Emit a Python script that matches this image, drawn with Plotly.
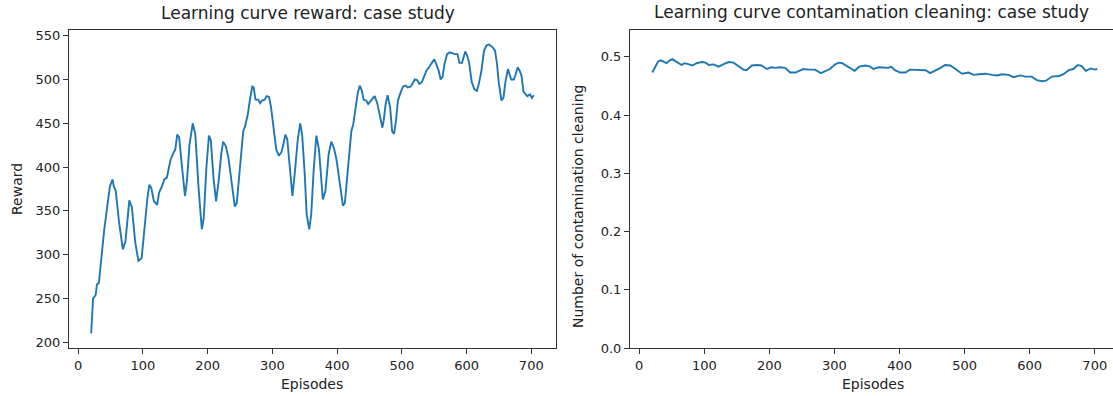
import plotly.graph_objects as go

# ---- data ----
reward_episodes = [20, 23, 27, 29, 32, 37, 40, 44, 49, 53, 55, 58, 63, 69, 73, 79, 83, 88, 93, 98,
                   103, 107, 110, 113, 117, 122, 125, 130, 133, 137, 140, 143, 147, 150, 153, 156, 160, 165, 168, 172,
                   177, 181, 186, 191, 194, 198, 202, 205, 209, 213, 217, 221, 224, 228, 232, 237, 242, 245, 250, 255,
                   258, 262, 266, 269, 271, 274, 278, 281, 284, 288, 291, 295, 298, 302, 306, 310, 314, 317, 320, 323,
                   328, 331, 335, 339, 343, 346, 350, 353, 357, 360, 364, 368, 372, 378, 382, 387, 391, 395, 399, 404,
                   409, 412, 417, 422, 425, 428, 432, 435, 438, 441, 445, 448, 452, 455, 458, 462, 466, 470, 472, 475,
                   478, 482, 485, 488, 491, 494, 498, 502, 506, 509, 514, 517, 520, 524, 527, 531, 534, 538, 542, 546,
                   550, 553, 557, 560, 563, 566, 570, 574, 578, 582, 586, 589, 593, 596, 598, 601, 604, 608, 612, 616,
                   619, 623, 627, 631, 635, 640, 644, 647, 650, 654, 657, 660, 664, 669, 673, 676, 679, 682, 685, 688,
                   691, 694, 698, 701, 704]
reward_values = [210, 250, 254, 266, 268, 308, 327, 350, 378, 386, 378, 373, 338, 306, 315, 362, 354, 315, 293, 296,
                 338, 365, 380, 376, 361, 357, 371, 379, 386, 388, 399, 409, 416, 420, 437, 434, 403, 367, 384, 426,
                 450, 437, 376, 329, 342, 399, 436, 430, 388, 361, 384, 415, 429, 424, 411, 384, 355, 359, 403, 441,
                 447, 460, 480, 492, 491, 477, 477, 473, 476, 477, 481, 480, 468, 441, 420, 413, 417, 426, 437, 432,
                 388, 367, 396, 430, 450, 437, 392, 346, 329, 346, 399, 436, 420, 363, 373, 415, 429, 422, 409, 384,
                 356, 359, 399, 441, 449, 464, 485, 493, 488, 477, 476, 472, 476, 479, 481, 473, 457, 445, 453, 472,
                 482, 468, 441, 438, 453, 476, 485, 492, 493, 491, 492, 497, 500, 499, 495, 497, 502, 510, 514, 519,
                 523, 518, 510, 500, 503, 518, 529, 531, 530, 529, 529, 519, 519, 529, 532, 527, 519, 497, 489, 487,
                 495, 510, 533, 539, 540, 537, 533, 518, 495, 476, 479, 497, 512, 500, 500, 506, 514, 510, 504, 486,
                 484, 481, 483, 479, 482]

clean_episodes = [20, 24, 29, 33, 37, 42, 47, 51, 55, 60, 65, 70, 75, 82, 88, 96, 102, 107, 114, 122,
                  129, 137, 145, 152, 160, 165, 173, 181, 188, 196, 203, 209, 216, 224, 232, 240, 245, 252, 260, 270,
                  279, 286, 293, 301, 307, 312, 322, 331, 338, 347, 355, 360, 368, 375, 383, 387, 393, 401, 409, 416,
                  424, 432, 440, 447, 455, 463, 470, 478, 486, 496, 506, 514, 522, 532, 542, 550, 557, 568, 575, 586,
                  593, 603, 611, 619, 625, 634, 645, 652, 660, 667, 674, 680, 686, 694, 700, 704]
clean_values = [0.473, 0.482, 0.492, 0.494, 0.492, 0.489, 0.494, 0.496, 0.493, 0.489, 0.486, 0.489, 0.487, 0.485, 0.489, 0.491, 0.490, 0.486, 0.487, 0.483,
                0.487, 0.491, 0.490, 0.485, 0.478, 0.477, 0.485, 0.486, 0.485, 0.479, 0.482, 0.481, 0.482, 0.481, 0.473, 0.473, 0.476, 0.479, 0.478, 0.478,
                0.472, 0.476, 0.479, 0.487, 0.490, 0.489, 0.482, 0.476, 0.483, 0.485, 0.483, 0.479, 0.482, 0.481, 0.481, 0.483, 0.477, 0.473, 0.473, 0.478,
                0.478, 0.477, 0.477, 0.472, 0.476, 0.481, 0.486, 0.485, 0.479, 0.471, 0.473, 0.469, 0.470, 0.471, 0.469, 0.468, 0.470, 0.469, 0.465, 0.468,
                0.466, 0.466, 0.460, 0.458, 0.459, 0.466, 0.467, 0.470, 0.477, 0.479, 0.486, 0.484, 0.476, 0.480, 0.478, 0.479]

x_ticks = [0, 100, 200, 300, 400, 500, 600, 700]
reward_ticks = [200, 250, 300, 350, 400, 450, 500, 550]
clean_ticks = [0.0, 0.1, 0.2, 0.3, 0.4, 0.5]

titles = ["Learning curve reward: case study", "Learning curve contamination cleaning: case study"]
y_titles = ["Reward", "Number of contamination cleaning"]
x_title = "Episodes"

# ---- layout in pixels ----
W, H = 1113, 396
TOP, BOTTOM = 30, 348
L1, R1 = 69, 556
L2, R2 = 630, 1113

LINE = "#1f77b4"
FONT = "DejaVu Sans"
TXT = "#222222"

fig = go.Figure()
fig.add_trace(go.Scatter(x=reward_episodes, y=reward_values, mode="lines",
                         line=dict(color=LINE, width=1.9), xaxis="x", yaxis="y", showlegend=False))
fig.add_trace(go.Scatter(x=clean_episodes, y=clean_values, mode="lines",
                         line=dict(color=LINE, width=1.9), xaxis="x2", yaxis="y2", showlegend=False))

ax_common = dict(showgrid=False, zeroline=False, showline=True, linecolor="#333333", linewidth=1,
                 ticks="outside", ticklen=5, tickwidth=1, tickcolor="#333333", automargin=False,
                 tickfont=dict(family=FONT, size=13, color=TXT))

ydom = [1 - BOTTOM / H, 1 - TOP / H]
fig.update_layout(
    width=W, height=H,
    margin=dict(l=0, r=0, t=0, b=0, autoexpand=False),
    paper_bgcolor="white", plot_bgcolor="white",
    xaxis=dict(domain=[L1 / W, R1 / W], range=[-14.2, 738.2], tickvals=x_ticks, mirror=True,
               anchor="y", **ax_common),
    yaxis=dict(domain=ydom, range=[193.5, 556.5], tickvals=reward_ticks, mirror=True,
               anchor="x", **ax_common),
    xaxis2=dict(domain=[L2 / W, R2 / W], range=[-14.2, 728.0], tickvals=x_ticks, mirror=True,
                anchor="y2", **ax_common),
    yaxis2=dict(domain=ydom, range=[0, 0.546], tickvals=clean_ticks, tickformat=".1f", mirror=False,
                anchor="x2", **ax_common),
)

def ann(text, px, py, size, angle=0):
    fig.add_annotation(text=text, xref="paper", yref="paper", x=px / W, y=1 - py / H,
                       xanchor="center", yanchor="middle", showarrow=False, textangle=angle,
                       font=dict(family=FONT, size=size, color=TXT))

ann(titles[0], 308, 13, 17)
ann(titles[1], 871, 12, 17)
ann(y_titles[0], 17, 189, 14, -90)
ann(y_titles[1], 578, 206, 14, -90)
ann(x_title, 312, 384, 14)
ann(x_title, 873, 384, 14)

fig.write_html("out.html", config={"displayModeBar": False},
               post_script="document.body.style.margin='0';document.body.style.overflow='hidden';")
